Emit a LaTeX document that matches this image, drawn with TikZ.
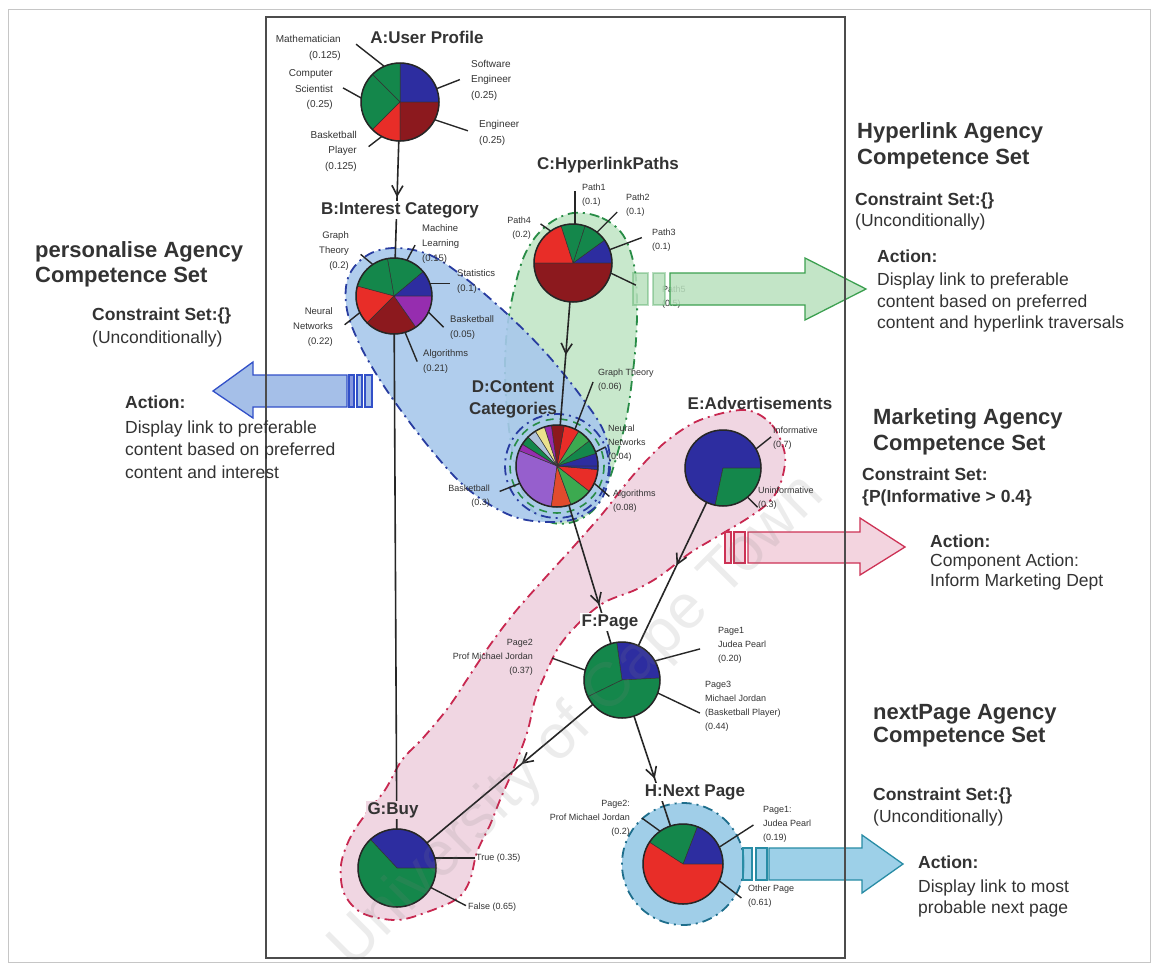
\documentclass[tikz,border=0pt]{standalone}
\usepackage{fontspec}
\setmainfont{Liberation Sans}
\usetikzlibrary{arrows.meta,decorations.markings,calc}

% pie colours
\definecolor{pieblue}{RGB}{45,45,160}
\definecolor{piegreen}{RGB}{20,135,75}
\definecolor{piedark}{RGB}{140,25,30}
\definecolor{piered}{RGB}{232,45,40}
\definecolor{piepurple}{RGB}{150,45,175}
\definecolor{pielilac}{RGB}{150,95,205}
\definecolor{pielime}{RGB}{60,170,80}
\definecolor{pieorange}{RGB}{225,75,45}
\definecolor{pieyellow}{RGB}{235,225,140}
\definecolor{piesky}{RGB}{175,195,220}
% agency regions
\definecolor{pinkfill}{RGB}{240,214,226}
\definecolor{pinkline}{RGB}{200,40,80}
\definecolor{bluefill}{RGB}{168,200,236}
\definecolor{blueline}{RGB}{40,60,160}
\definecolor{greenfill}{RGB}{200,232,204}
\definecolor{greenline}{RGB}{40,140,70}
\definecolor{tealfill}{RGB}{160,206,232}
\definecolor{tealline}{RGB}{30,110,140}
% action arrows
\definecolor{garrowfill}{RGB}{185,225,190}
\definecolor{garrowline}{RGB}{60,160,80}
\definecolor{barrowfill}{RGB}{150,180,228}
\definecolor{barrowline}{RGB}{50,80,200}
\definecolor{rarrowfill}{RGB}{242,205,218}
\definecolor{rarrowline}{RGB}{205,50,85}
\definecolor{tarrowfill}{RGB}{140,200,228}
\definecolor{tarrowline}{RGB}{40,140,165}

\tikzset{
  pienode/.style={circle, inner sep=0pt, minimum size=#1},
  piecut/.style={draw=black!80, line width=0.5pt},
  rim/.style={draw=black!85, line width=1.5pt},
  leader/.style={draw=black!85, line width=1.4pt},
  link/.style={draw=black!85, line width=1.6pt},
  midarrow/.style={postaction={decorate}, decoration={markings,
      mark=at position #1 with {\arrow{Straight Barb[length=10pt,width=11pt,line width=1.6pt]}}}},
  ptitle/.style={font=\bfseries\fontsize{17}{22}\selectfont, text=black!80, inner sep=1.5pt},
  plabel/.style={font=\fontsize{9}{14}\selectfont, text=black!80, inner sep=0pt},
  plabelL/.style={plabel, anchor=east, align=right},
  plabelR/.style={plabel, anchor=west, align=left},
  region/.style={line width=1.8pt, dash pattern=on 10pt off 5pt on 2pt off 5pt},
  agtitle/.style={font=\bfseries\fontsize{22}{26}\selectfont, text=black!80, anchor=base west, inner sep=0pt},
  agcons/.style={font=\bfseries\fontsize{17.5}{21}\selectfont, text=black!80, anchor=base west, inner sep=0pt},
  agbody/.style={font=\fontsize{17.5}{21}\selectfont, text=black!80, anchor=base west, inner sep=0pt},
  bigarrow/.style={line width=1.3pt, fill opacity=0.85},
}

% pie: node, radius, list of start/end/colour (angles counter-clockwise)
\newcommand\drawpie[3]{%
  \foreach \pa/\pb/\pc in {#3} {%
    \fill[fill=\pc, piecut] (#1.center) -- ++(-\pa:#2)
      arc[start angle=-\pa, end angle=-\pb, radius=#2] -- cycle;}
  \draw[rim] (#1.center) circle[radius=#2];}

\begin{document}
\begin{tikzpicture}[x=1pt,y=-1pt]
\useasboundingbox (0,0) rectangle (1157,970);
\fill[white] (0,0) rectangle (1157,970);
\draw[gray!45, line width=0.8pt] (8,9) rectangle (1150,962);

% pie nodes
\node[pienode=78pt] (A) at (400,102) {};
\node[pienode=76pt] (B) at (394,296) {};
\node[pienode=78pt] (C) at (573,263) {};
\node[pienode=82pt] (D) at (557,466) {};
\node[pienode=76pt] (E) at (723,468) {};
\node[pienode=76pt] (F) at (622,680) {};
\node[pienode=78pt] (G) at (397,868) {};
\node[pienode=80pt] (H) at (683,864) {};

% agency regions
\filldraw[fill=greenfill, draw=greenline, region] plot[smooth cycle, tension=0.6] coordinates {
  (573,213) (602,218) (623,235) (634,265) (637,300) (636,340) (632,380) (627,415)
  (619,448) (609,480) (596,507) (576,521) (553,523) (533,511) (520,485) (512,450)
  (507,410) (505,370) (507,330) (514,290) (526,252) (546,226)};
\filldraw[fill=bluefill, fill opacity=0.9, draw=blueline, region] plot[smooth cycle, tension=0.6] coordinates {
  (394,248) (430,255) (465,278) (505,312) (545,352) (580,395) (604,432) (610,468)
  (601,500) (580,517) (552,522) (518,518) (487,503) (460,482) (433,452) (405,416)
  (380,380) (360,345) (347,310) (348,278) (366,256)};
\draw[blueline, region] (D.center) circle[radius=52];
\draw[greenline, line width=1.6pt, dash pattern=on 8pt off 6pt] (D.center) circle[radius=47];
\filldraw[fill=pinkfill, draw=pinkline, region] plot[smooth cycle, tension=0.55] coordinates {
  (745,410) (772,425) (785,455) (780,485) (768,503) (748,518) (720,535) (690,553)
  (660,576) (635,590) (605,602) (582,620) (560,645) (545,675) (535,700) (527,733)
  (513,770) (500,800) (490,825) (477,852) (470,880) (458,898) (430,911) (397,920)
  (362,913) (344,893) (341,865) (350,838) (365,815) (385,790) (402,760) (423,738)
  (448,708) (468,678) (490,645) (515,612) (545,578) (575,545) (603,513) (625,485)
  (645,462) (668,440) (700,420)};
\filldraw[fill=tealfill, draw=tealline, region] (H.center) circle[radius=61];

% Path5 label sits under the hyperlink arrow
\node[plabelR] (c5) at (662,297) {Path5\\(0.5)};

% action arrows
\begin{scope}[bigarrow, fill=garrowfill, draw=garrowline]
  \filldraw[draw opacity=0.35] (633,273) rectangle (648,305);
  \filldraw[draw opacity=0.35] (653,273) rectangle (665,305);
  \filldraw (670,273) -- (805,273) -- (805,258) -- (866,289) -- (805,320) -- (805,305) -- (670,305) -- cycle;
\end{scope}
\begin{scope}[bigarrow, fill=barrowfill, draw=barrowline]
  \filldraw (347,375) -- (253,375) -- (253,362) -- (213,391) -- (253,418) -- (253,407) -- (347,407) -- cycle;
  \filldraw[fill=barrowline!70] (349,375) rectangle (354,407);
  \filldraw (357,375) rectangle (362,407);
  \filldraw (365,375) rectangle (372,407);
\end{scope}
\begin{scope}[bigarrow, fill=rarrowfill, draw=rarrowline]
  \filldraw (725,532) rectangle (731,563);
  \filldraw (734,532) rectangle (745,563);
  \filldraw (748,532) -- (860,532) -- (860,518) -- (905,547) -- (860,575) -- (860,563) -- (748,563) -- cycle;
\end{scope}
\begin{scope}[bigarrow, fill=tarrowfill, draw=tarrowline]
  \filldraw (743,848) rectangle (752,880);
  \filldraw (756,848) rectangle (767,880);
  \filldraw (769,848) -- (862,848) -- (862,835) -- (903,864) -- (862,893) -- (862,880) -- (769,880) -- cycle;
\end{scope}

% network frame
\draw[black!70, line width=1.3pt] (266,17) rectangle (845,958);

% dependencies
\draw[link, midarrow=0.48] (A) -- (B);
\draw[link] (B) -- (G);
\draw[link, midarrow=0.43] (C) -- (D);
\draw[link, midarrow=0.72] (D) -- (F);
\draw[link, midarrow=0.44] (E) -- (F);
\draw[link, midarrow=0.43] (F) -- (G);
\draw[link, midarrow=0.57] (F) -- (H);

% A: User Profile
\draw[leader] (A.114) -- ++(-28,-22);
\draw[leader] (A.174) -- ++(-18,-10);
\draw[leader] (A.242) -- ++(-13,10);
\draw[leader] (A.20) -- ++(23,-9);
\draw[leader] (A.333) -- ++(33,11);
\drawpie{A}{39}{0/90/pieblue, 90/135/piegreen, 135/225/piegreen, 225/270/piered, 270/360/piedark}
\node[plabelL, font=\fontsize{10}{15.5}\selectfont] (a1) at (341,48) {Mathematician\\(0.125)};
\node[plabelL, font=\fontsize{10}{15.5}\selectfont] (a2) at (333,90) {Computer\\Scientist\\(0.25)};
\node[plabelL, font=\fontsize{10}{15.5}\selectfont] (a3) at (357,151) {Basketball\\Player\\(0.125)};
\node[plabelR, font=\fontsize{10}{15.5}\selectfont] (a4) at (471,80) {Software\\Engineer\\(0.25)};
\node[plabelR, font=\fontsize{10}{15.5}\selectfont] (a5) at (479,133) {Engineer\\(0.25)};
\node[ptitle] (At) at (427,37) {A:User Profile};

% B: Interest Category
\draw[leader] (B.124) -- ++(-12,-10);
\draw[leader] (B.70) -- ++(8,-15);
\draw[leader] (B.19) -- ++(20,0);
\draw[leader] (B.335) -- ++(15,15);
\draw[leader] (B.287) -- ++(12,29);
\draw[leader] (B.206) -- ++(-15,12);
\drawpie{B}{38}{0/40/pieblue, 40/100/piegreen, 100/165/piegreen, 165/225/piered, 225/305/piedark, 305/360/piepurple}
\node[plabelL, font=\fontsize{9.5}{15}\selectfont] (b1) at (349,251) {Graph\\Theory\\(0.2)};
\node[plabelR, font=\fontsize{9.5}{15}\selectfont] (b2) at (422,244) {Machine\\Learning\\(0.15)};
\node[plabelR, font=\fontsize{9.5}{15}\selectfont] (b3) at (457,282) {Statistics\\(0.1)};
\node[plabelR, font=\fontsize{9.5}{15}\selectfont] (b4) at (450,328) {Basketball\\(0.05)};
\node[plabelR, font=\fontsize{9.5}{15}\selectfont] (b5) at (423,362) {Algorithms\\(0.21)};
\node[plabelL, font=\fontsize{9.5}{15}\selectfont] (b6) at (333,327) {Neural\\Networks\\(0.22)};
\node[ptitle, fill=white] (Bt) at (400,210) {B:Interest Category};

% C: HyperlinkPaths
\draw[leader] (C.87) -- ++(0,-33);
\draw[leader] (C.52) -- ++(20,-20);
\draw[leader] (C.20) -- ++(32,-12);
\draw[leader] (C.125) -- ++(-10,-7);
\draw[leader] (C.345) -- ++(25,12);
\drawpie{C}{39}{0/36/pieblue, 36/72/piegreen, 72/108/piegreen, 108/180/piered, 180/360/piedark}
\node[plabelR] (c1) at (582,195) {Path1\\(0.1)};
\node[plabelR] (c2) at (626,205) {Path2\\(0.1)};
\node[plabelR] (c3) at (652,240) {Path3\\(0.1)};
\node[plabelL] (c4) at (531,228) {Path4\\(0.2)};
\node[ptitle] (Ct) at (608,165) {C:HyperlinkPaths};

% D: Content Categories
\draw[leader] (D.64) -- ++(18,-47);
\draw[leader] (D.20) -- ++(10,-5);
\draw[leader] (D.335) -- ++(15,13);
\draw[leader] (D.205) -- ++(-20,8);
\drawpie{D}{41}{0/18/pieblue, 18/38/piegreen, 38/58/pielime, 58/80/piered, 80/98/piedark,
  98/108/piepurple, 108/122/pieyellow, 122/135/piesky, 135/148/piegreen, 148/158/piepurple,
  158/262/pielilac, 262/290/pieorange, 290/322/pielime, 322/355/piered, 355/360/pieblue}
\node[plabelR] (d1) at (598,380) {Graph Theory\\(0.06)};
\node[plabelR] (d2) at (608,443) {Neural\\Networks\\(0.04)};
\node[plabelR] (d3) at (613,501) {Algorithms\\(0.08)};
\node[plabelL] (d4) at (490,496) {Basketball\\(0.3)};
\node[ptitle, align=center] (Dt) at (513,399) {D:Content\\Categories};

% E: Advertisements
\draw[leader] (E.30) -- ++(15,-12);
\draw[leader] (E.310) -- ++(10,10);
\drawpie{E}{38}{0/258/pieblue, 258/360/piegreen}
\node[plabelR] (e1) at (773,438) {Informative\\(0.7)};
\node[plabelR] (e2) at (758,498) {Uninformative\\(0.3)};
\node[ptitle] (Et) at (760,403) {E:Advertisements};

% F: Page
\draw[leader] (F.165) -- ++(-33,-12);
\draw[leader] (F.30) -- ++(45,-12);
\draw[leader] (F.340) -- ++(42,20);
\drawpie{F}{38}{3/98/pieblue, 98/206/piegreen, 206/363/piegreen}
\node[plabelL] (f1) at (533,657) {Page2\\Prof Michael Jordan\\(0.37)};
\node[plabelR] (f2) at (718,645) {Page1\\Judea Pearl\\(0.20)};
\node[plabelR] (f3) at (705,706) {Page3\\Michael Jordan\\(Basketball Player)\\(0.44)};
\node[ptitle, fill=white] (Ft) at (610,622) {F:Page};

% G: Buy
\draw[leader] (G.15) -- ++(40,0);
\draw[leader] (G.330) -- ++(35,18);
\drawpie{G}{39}{0/133/pieblue, 133/360/piegreen}
\node[plabelR] (g1) at (476,858) {True (0.35)};
\node[plabelR] (g2) at (468,907) {False (0.65)};
\node[ptitle, fill=pinkfill] (Gt) at (393,810) {G:Buy};

% H: Next Page
\draw[leader] (H.125) -- ++(-18,-13);
\draw[leader] (H.25) -- ++(34,-22);
\draw[leader] (H.335) -- ++(22,17);
\drawpie{H}{40}{0/69/pieblue, 69/147/piegreen, 147/360/piered}
\node[plabelL] (h1) at (630,818) {Page2:\\Prof Michael Jordan\\(0.2)};
\node[plabelR] (h2) at (763,824) {Page1:\\Judea Pearl\\(0.19)};
\node[plabelR] (h3) at (748,896) {Other Page\\(0.61)};
\node[ptitle, fill=white] (Ht) at (695,792) {H:Next Page};

% personalise agency
\node[agtitle] (p1) at (35,257) {personalise Agency};
\node[agtitle] (p2) at (35,282) {Competence Set};
\node[agcons] (p3) at (92,320) {Constraint Set:\{\}};
\node[agbody] (p4) at (92,343) {(Unconditionally)};
\node[agcons] (p5) at (125,408) {Action:};
\node[agbody] (p6) at (125,433) {Display link to preferable};
\node[agbody] (p7) at (125,455) {content based on preferred};
\node[agbody] (p8) at (125,478) {content and interest};

% hyperlink agency
\node[agtitle] (y1) at (857,138) {Hyperlink Agency};
\node[agtitle] (y2) at (857,164) {Competence Set};
\node[agcons] (y3) at (855,205) {Constraint Set:\{\}};
\node[agbody] (y4) at (855,226) {(Unconditionally)};
\node[agcons] (y5) at (877,262) {Action:};
\node[agbody] (y6) at (877,285) {Display link to preferable};
\node[agbody] (y7) at (877,307) {content based on preferred};
\node[agbody] (y8) at (877,328) {content and hyperlink traversals};

% marketing agency
\node[agtitle] (m1) at (873,424) {Marketing Agency};
\node[agtitle] (m2) at (873,450) {Competence Set};
\node[agcons] (m3) at (862,480) {Constraint Set:};
\node[agcons] (m4) at (862,502) {\{P(Informative > 0.4\}};
\node[agcons] (m5) at (930,547) {Action:};
\node[agbody] (m6) at (930,566) {Component Action:};
\node[agbody] (m7) at (930,586) {Inform Marketing Dept};

% nextPage agency
\node[agtitle] (n1) at (873,719) {nextPage Agency};
\node[agtitle] (n2) at (873,742) {Competence Set};
\node[agcons] (n3) at (873,800) {Constraint Set:\{\}};
\node[agbody] (n4) at (873,822) {(Unconditionally)};
\node[agcons] (n5) at (918,868) {Action:};
\node[agbody] (n6) at (918,892) {Display link to most};
\node[agbody] (n7) at (918,913) {probable next page};

% watermark
\node[rotate=45, font=\fontsize{62}{62}\selectfont, text=gray, text opacity=0.15] (wm) at (578,722) {University of Cape Town};
\end{tikzpicture}
\end{document}
